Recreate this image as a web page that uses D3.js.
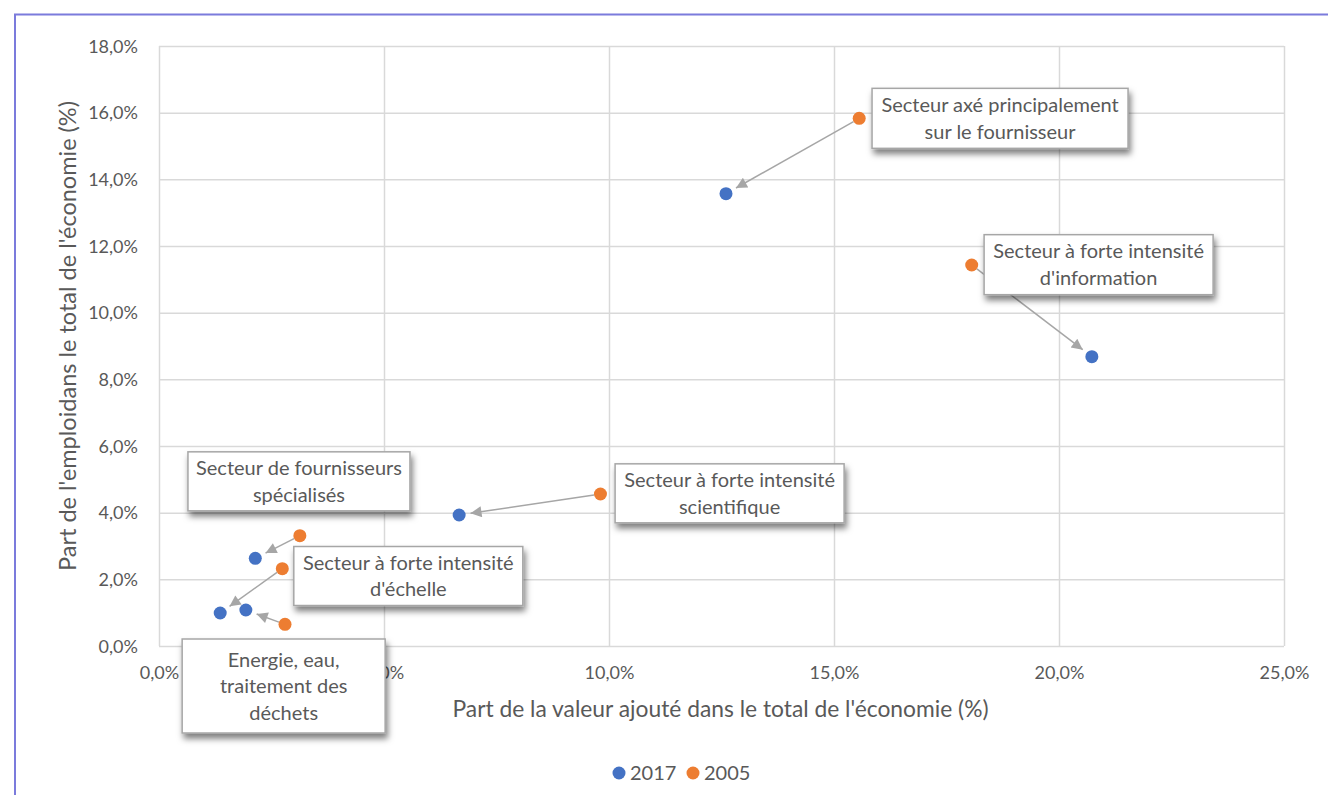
<!DOCTYPE html>
<html>
<head>
<meta charset="utf-8">
<script src="https://cdn.jsdelivr.net/npm/d3@7"></script>
<style>
  html, body { margin: 0; padding: 0; background: #fff; }
  svg { display: block; font-family: Lato, "Open Sans", sans-serif; }
</style>
</head>
<body>
<svg id="chart" width="1328" height="795"></svg>
<script>
// Sectors (Pavitt-style taxonomy) and their shares of value added (x) and employment (y), in %
const sectors = [
  "Secteur axé principalement sur le fournisseur",
  "Secteur à forte intensité d'information",
  "Secteur à forte intensité scientifique",
  "Secteur de fournisseurs spécialisés",
  "Secteur à forte intensité d'échelle",
  "Energie, eau, traitement des déchets"
];
const x2017 = [12.6, 20.73, 6.67, 2.14, 1.36, 1.93];
const y2017 = [13.57, 8.68, 3.93, 2.63, 0.99, 1.08];
const x2005 = [15.56, 18.06, 9.81, 3.13, 2.74, 2.80];
const y2005 = [15.83, 11.43, 4.56, 3.31, 2.32, 0.65];

const years = ["2017", "2005"];
const xTicks = [0, 5, 10, 15, 20, 25];
const yTicks = [0, 2, 4, 6, 8, 10, 12, 14, 16, 18];

// Callout text lines for each sector
const labelLines = [
  ["Secteur axé principalement", "sur le fournisseur"],
  ["Secteur à forte intensité", "d'information"],
  ["Secteur à forte intensité", "scientifique"],
  ["Secteur de fournisseurs", "spécialisés"],
  ["Secteur à forte intensité", "d'échelle"],
  ["Energie, eau,", "traitement des", "déchets"]
];
// Callout placement: centre in data units, box size in px
const labelLayout = [
  { cx: 18.69, cy: 15.83, w: 256, h: 60 },
  { cx: 20.88, cy: 11.44, w: 229, h: 60 },
  { cx: 12.68, cy: 4.58, w: 229, h: 59 },
  { cx: 3.11, cy: 4.94, w: 222, h: 59 },
  { cx: 5.54, cy: 2.10, w: 229, h: 59 },
  { cx: 2.77, cy: -1.20, w: 203, h: 94 }
];

const colors = { "2017": "#4472C4", "2005": "#ED7D31" };
const textColor = "#595959";
const gridColor = "#d9d9d9";

const svg = d3.select("#chart");

// outer frame
svg.append("path")
  .attr("d", "M15,795 L15,14.5 L1328,14.5")
  .attr("fill", "none")
  .attr("stroke", "#7b7bdc")
  .attr("stroke-width", 2);

const plot = { left: 159, right: 1284, top: 46, bottom: 646 };

const x = d3.scaleLinear().domain([0, 25]).range([plot.left, plot.right]);
const y = d3.scaleLinear().domain([0, 18]).range([plot.bottom, plot.top]);

const fmt = v => d3.format(".1f")(v).replace(".", ",") + "%";

const defs = svg.append("defs");
defs.append("filter")
  .attr("id", "shadow")
  .attr("x", "-20%").attr("y", "-30%").attr("width", "140%").attr("height", "170%")
  .append("feDropShadow")
  .attr("dx", 2).attr("dy", 5).attr("stdDeviation", 3)
  .attr("flood-color", "#000").attr("flood-opacity", 0.5);

defs.append("marker")
  .attr("id", "arrow")
  .attr("viewBox", "0 0 10 10")
  .attr("refX", 10).attr("refY", 5)
  .attr("markerWidth", 15).attr("markerHeight", 11)
  .attr("markerUnits", "userSpaceOnUse")
  .attr("orient", "auto")
  .append("path")
  .attr("d", "M0,0 L10,5 L0,10 Z")
  .attr("fill", "#a6a6a6");

// gridlines via axes
const gx = svg.append("g")
  .attr("transform", `translate(0,${plot.bottom})`)
  .call(d3.axisBottom(x).tickValues(xTicks).tickSize(-(plot.bottom - plot.top)).tickFormat(fmt));
const gy = svg.append("g")
  .attr("transform", `translate(${plot.left},0)`)
  .call(d3.axisLeft(y).tickValues(yTicks).tickSize(-(plot.right - plot.left)).tickFormat(fmt));

[gx, gy].forEach(g => {
  g.select(".domain").remove();
  g.selectAll(".tick line").attr("stroke", gridColor).attr("stroke-width", 1.5);
  g.selectAll(".tick text")
    .attr("fill", textColor)
    .style("font-size", "18px")
    .style("font-family", "Lato, 'Open Sans', sans-serif");
});
gx.selectAll(".tick text").attr("dy", 0).attr("y", 33);
gy.selectAll(".tick text").attr("x", -21).attr("dy", "0.35em");

// axis titles
svg.append("text")
  .attr("x", (plot.left + plot.right) / 2 - 1)
  .attr("y", 717)
  .attr("text-anchor", "middle")
  .attr("fill", textColor)
  .style("font-size", "22.8px")
  .text("Part de la valeur ajouté dans le total de l'économie (%)");

svg.append("text")
  .attr("transform", `translate(76,336) rotate(-90)`)
  .attr("text-anchor", "middle")
  .attr("fill", textColor)
  .style("font-size", "23.5px")
  .text("Part de l'emploidans le total de l'économie (%)");

// arrows from 2005 to 2017 position
const r = 6.5;
const arrows = sectors.map((s, i) => {
  const x0 = x(x2005[i]), y0 = y(y2005[i]);
  const x1 = x(x2017[i]), y1 = y(y2017[i]);
  const dx = x1 - x0, dy = y1 - y0, len = Math.hypot(dx, dy);
  const ux = dx / len, uy = dy / len;
  return { x0: x0 + ux * r, y0: y0 + uy * r, x1: x1 - ux * (r + 5), y1: y1 - uy * (r + 5) };
});
svg.append("g").selectAll("line")
  .data(arrows)
  .join("line")
  .attr("x1", d => d.x0).attr("y1", d => d.y0)
  .attr("x2", d => d.x1).attr("y2", d => d.y1)
  .attr("stroke", "#a6a6a6")
  .attr("stroke-width", 1.5)
  .attr("marker-end", "url(#arrow)");

// points
const pts = svg.append("g");
pts.selectAll("circle.y2017")
  .data(sectors)
  .join("circle")
  .attr("class", "y2017")
  .attr("cx", (d, i) => x(x2017[i])).attr("cy", (d, i) => y(y2017[i]))
  .attr("r", r).attr("fill", colors["2017"]);
pts.selectAll("circle.y2005")
  .data(sectors)
  .join("circle")
  .attr("class", "y2005")
  .attr("cx", (d, i) => x(x2005[i])).attr("cy", (d, i) => y(y2005[i]))
  .attr("r", r).attr("fill", colors["2005"]);

// callouts
const lineH = 26.5;
const callouts = svg.append("g").selectAll("g")
  .data(sectors)
  .join("g")
  .attr("transform", (d, i) => `translate(${x(labelLayout[i].cx)},${y(labelLayout[i].cy)})`);
callouts.append("rect")
  .attr("x", (d, i) => -labelLayout[i].w / 2)
  .attr("y", (d, i) => -labelLayout[i].h / 2)
  .attr("width", (d, i) => labelLayout[i].w)
  .attr("height", (d, i) => labelLayout[i].h)
  .attr("fill", "#fff")
  .attr("stroke", "#a6a6a6")
  .attr("stroke-width", 1.5)
  .attr("filter", "url(#shadow)");
callouts.each(function (d, i) {
  const lines = labelLines[i];
  const t = d3.select(this).append("text")
    .attr("text-anchor", "middle")
    .attr("fill", textColor)
    .style("font-size", "20px");
  lines.forEach((ln, k) => {
    t.append("tspan")
      .attr("x", 0)
      .attr("y", (k - (lines.length - 1) / 2) * lineH)
      .attr("dy", "0.35em")
      .text(ln);
  });
});

// legend
const legend = svg.append("g").attr("transform", "translate(619,773)");
const items = legend.selectAll("g")
  .data(years)
  .join("g")
  .attr("transform", (d, i) => `translate(${i * 74},0)`);
items.append("circle").attr("r", 6.5).attr("fill", d => colors[d]);
items.append("text")
  .attr("x", 11).attr("dy", "0.35em")
  .attr("fill", textColor)
  .style("font-size", "20px")
  .text(d => d);
</script>
</body>
</html>
